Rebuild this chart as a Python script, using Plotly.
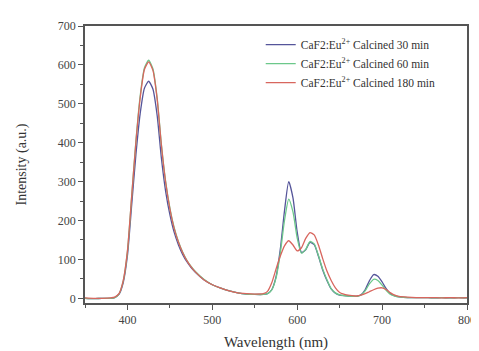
import plotly.graph_objects as go

wavelength = [350,360,370,380,385,390,395,400,405,410,415,420,425,430,435,440,445,450,455,460,
              465,470,475,480,490,500,510,520,530,540,550,560,565,570,575,580,585,590,595,600,
              605,610,615,620,625,630,635,640,645,650,660,670,675,680,685,690,695,700,705,710,
              715,720,730,740,750,760,770,780,790,800]

int_30min = [0,-1,0,0,2,10,40,110,240,370,475,540,558,538,470,360,275,215,170,138,
             113,94,79,67,48,35,26,19,14,11,10,10,12,22,55,125,225,300,258,170,
             118,125,144,138,108,73,46,24,13,8,6,5,9,22,45,61,57,42,24,11,
             6,4,2,2,2,1,2,1,2,1]

int_60min = [0,-1,0,0,2,11,44,120,262,405,520,592,612,590,515,395,300,232,182,146,
             119,98,82,69,49,35,26,19,14,11,10,10,12,22,52,115,200,255,222,155,
             116,126,146,140,110,75,48,25,14,9,6,5,8,19,37,49,46,34,20,10,
             6,4,2,2,2,1,2,1,2,1]

int_180min = [1,0,0,1,3,12,45,122,262,402,515,588,608,586,512,393,298,230,180,145,
              118,97,81,68,48,35,26,19,14,12,11,12,18,40,75,108,135,148,137,122,
              130,154,169,163,137,102,70,46,27,15,8,6,8,12,17,22,26,27,22,14,
              8,5,3,2,2,2,1,2,1,2]

series_names = ["CaF2:Eu<sup>2+</sup> Calcined 30 min",
                "CaF2:Eu<sup>2+</sup> Calcined 60 min",
                "CaF2:Eu<sup>2+</sup> Calcined 180 min"]
series_values = [int_30min, int_60min, int_180min]
colors = ["#55559a", "#6cc88a", "#d8665e"]

x_ticks = [400, 500, 600, 700, 800]
y_ticks = [0, 100, 200, 300, 400, 500, 600, 700]

fig = go.Figure()
for name, vals, c in zip(series_names, series_values, colors):
    fig.add_trace(go.Scatter(x=wavelength, y=vals, mode="lines", name=name,
                             line=dict(color=c, width=1.3, shape="spline", smoothing=0.6)))

font_family = "Liberation Serif"
axis_common = dict(showline=True, linecolor="#555555", linewidth=1.5, mirror=True,
                   ticks="outside", ticklen=5, tickwidth=1.3, tickcolor="#555555",
                   showgrid=False, zeroline=False,
                   tickfont=dict(family=font_family, size=12, color="#444444"))

fig.update_layout(
    width=479, height=351,
    margin=dict(l=77, r=11, t=16, b=44),
    paper_bgcolor="white", plot_bgcolor="white",
    font=dict(family=font_family, color="#333333"),
    showlegend=True,
    legend=dict(x=0.46, y=0.985, xanchor="left", yanchor="top",
                bgcolor="rgba(0,0,0,0)", itemwidth=30,
                font=dict(family=font_family, size=11.5, color="#333333"),
                tracegroupgap=0),
)
fig.update_xaxes(range=[350, 800], tickvals=x_ticks,
                 minor=dict(dtick=50, ticks="outside", ticklen=3, tickcolor="#555555"),
                 title=dict(text="Wavelength (nm)", font=dict(family=font_family, size=15, color="#333333"),
                            standoff=10),
                 **axis_common)
fig.update_yaxes(range=[-12, 700], tickvals=y_ticks,
                 minor=dict(dtick=50, ticks="outside", ticklen=3, tickcolor="#555555"),
                 title=dict(text="Intensity (a.u.)", font=dict(family=font_family, size=14, color="#333333"),
                            standoff=28),
                 **axis_common)

fig.write_html("out.html")
